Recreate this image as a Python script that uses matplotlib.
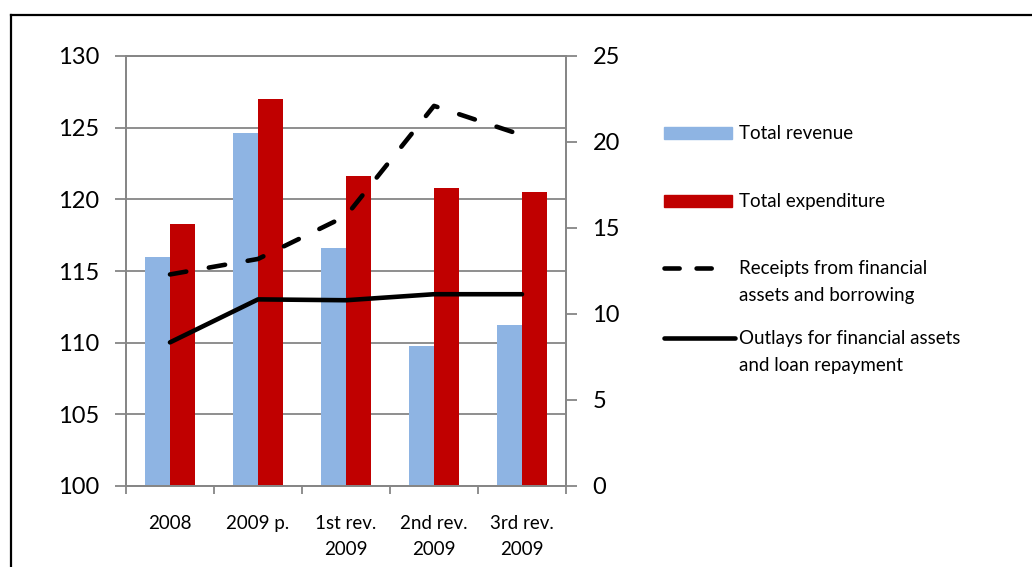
import numpy as np
from matplotlib import pyplot as plt
from matplotlib.lines import Line2D
from matplotlib.patches import Rectangle

plt.rcParams['font.family'] = ['Lato', 'DejaVu Sans']

categories = ['2008', '2009 p.', '1st rev.\n2009', '2nd rev.\n2009', '3rd rev.\n2009']
total_revenue = [116.0, 124.6, 116.6, 109.8, 111.2]
total_expenditure = [118.3, 127.0, 121.6, 120.8, 120.5]
receipts = [12.3, 13.2, 15.7, 22.1, 20.4]
outlays = [8.35, 10.85, 10.8, 11.15, 11.15]

labels = ['Total revenue', 'Total expenditure',
          'Receipts from financial\nassets and borrowing',
          'Outlays for financial assets\nand loan repayment']

blue = '#8EB4E3'
red = '#C00000'
grey = '#868686'

W, H = 1032, 567
fig = plt.figure(figsize=(W / 100, H / 100), dpi=100)
ax = fig.add_axes([126 / W, 1 - 486 / H, 440 / W, 430 / H])
ax2 = ax.twinx()

x = np.arange(len(categories))
bw = 0.284
ax.bar(x - bw / 2, total_revenue, bw, color=blue, zorder=2)
ax.bar(x + bw / 2, total_expenditure, bw, color=red, zorder=2)

ax.set_ylim(100, 130)
ax.set_yticks(np.arange(100, 131, 5))
ax.set_xlim(-0.5, len(categories) - 0.5)
ax.set_axisbelow(True)
ax.yaxis.grid(True, color=grey, linewidth=1.3)

ax2.plot(x, receipts, color='black', lw=3.3, dashes=(3.6, 5.0),
         dash_capstyle='round', solid_capstyle='round')
ax2.plot(x, outlays, color='black', lw=3.3, solid_capstyle='round')
ax2.set_ylim(0, 25)
ax2.set_yticks(np.arange(0, 26, 5))

for a in (ax, ax2):
    for s in a.spines.values():
        s.set_color(grey)
        s.set_linewidth(1.3)
ax.tick_params(axis='y', length=8, width=1.3, color=grey, pad=11, labelsize=17)
ax2.tick_params(axis='y', length=8, width=1.3, color=grey, pad=11, labelsize=17)

ax.set_xticks(x)
ax.set_xticklabels(categories, fontsize=13.5, linespacing=1.6, va='top')
ax.set_xticks(np.arange(-0.5, len(categories), 1), minor=True)
ax.tick_params(axis='x', which='major', length=0, pad=21)
ax.tick_params(axis='x', which='minor', length=6, width=1.3, color=grey)

# legend drawn in pixel space
lax = fig.add_axes([0, 0, 1, 1])
lax.set_xlim(0, W)
lax.set_ylim(H, 0)
lax.axis('off')
lax.add_patch(Rectangle((664, 127), 68, 12, color=blue))
lax.add_patch(Rectangle((664, 195), 68, 12, color=red))
lax.plot([664, 728], [268, 268], color='black', lw=3.3, dashes=(3.3, 3.7),
         dash_capstyle='round')
lax.plot([664, 735], [338, 338], color='black', lw=3.3, solid_capstyle='round')
ys = [133, 201, 268, 338]
for lab, yy in zip(labels, ys):
    lax.text(739, yy - 8, lab, fontsize=13.5, va='top', ha='left', linespacing=1.75)

# outer frame (top and left edges)
fig.add_artist(Line2D([11 / W, 11 / W], [0, 1 - 15 / H], color='black', lw=1.6,
                      transform=fig.transFigure))
fig.add_artist(Line2D([11 / W, 1], [1 - 15 / H, 1 - 15 / H], color='black', lw=1.6,
                      transform=fig.transFigure))

fig.savefig('out.png', dpi=100)
